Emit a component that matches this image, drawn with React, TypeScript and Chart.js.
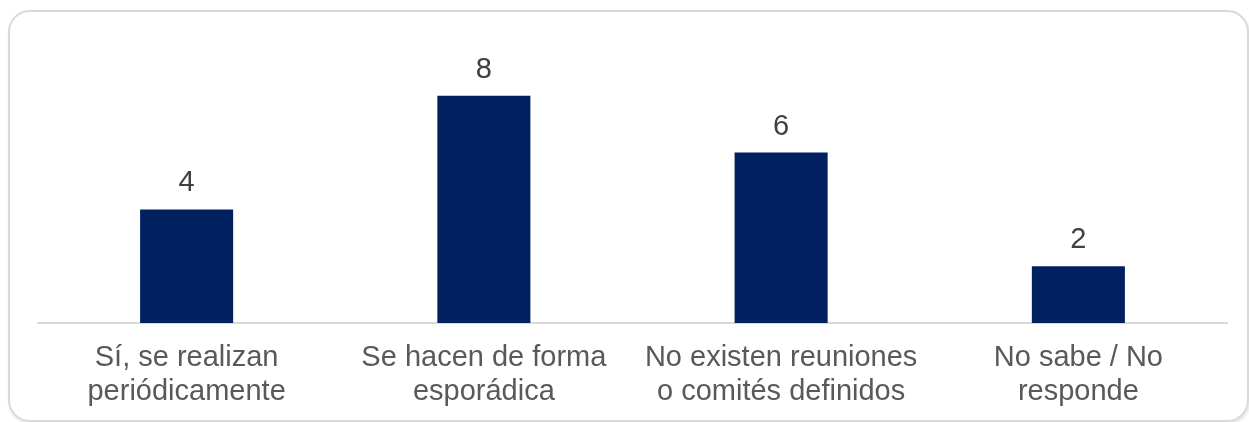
import React, { useEffect, useRef } from "react";
import { Chart, registerables } from "chart.js";

Chart.register(...registerables);

const categories: string[][] = [
  ["Sí, se realizan", "periódicamente"],
  ["Se hacen de forma", "esporádica"],
  ["No existen reuniones", "o comités definidos"],
  ["No sabe / No", "responde"],
];
const values: number[] = [4, 8, 6, 2];

const FONT = "'Liberation Sans', Arial, sans-serif";

const valueLabels = {
  id: "valueLabels",
  afterDatasetsDraw(chart: any) {
    const ctx = chart.ctx;
    const meta = chart.getDatasetMeta(0);
    ctx.save();
    ctx.fillStyle = "#404040";
    ctx.font = `29px ${FONT}`;
    ctx.textAlign = "center";
    ctx.textBaseline = "alphabetic";
    meta.data.forEach((bar: any, i: number) => {
      ctx.fillText(String(values[i]), bar.x, bar.y - 18);
    });
    ctx.restore();
  },
};

export default function App() {
  const ref = useRef<HTMLCanvasElement>(null);
  useEffect(() => {
    document.body.style.margin = "0";
    const chart = new Chart(ref.current!, {
      type: "bar",
      data: {
        labels: categories,
        datasets: [
          {
            data: values,
            backgroundColor: "#002060",
            barPercentage: 0.313,
            categoryPercentage: 1,
          },
        ],
      },
      options: {
        animation: false,
        responsive: false,
        maintainAspectRatio: false,
        layout: { padding: { left: 38, right: 22, top: 39, bottom: 0 } },
        plugins: { legend: { display: false }, tooltip: { enabled: false }, title: { display: false } },
        scales: {
          x: {
            grid: { display: false, drawTicks: false },
            border: { display: true, color: "#d9d9d9", width: 2 },
            ticks: {
              color: "#595959",
              font: { size: 29, family: FONT, lineHeight: 1.17 },
              padding: 18,
              maxRotation: 0,
              autoSkip: false,
            },
            afterFit(scale: any) {
              scale.height = 99;
            },
          },
          y: { display: false, min: 0, max: 10 },
        },
      },
      plugins: [valueLabels],
    });
    return () => chart.destroy();
  }, []);
  return (
    <div style={{ position: "absolute", left: 0, top: 0, width: 1249, height: 422, overflow: "hidden", background: "#fff" }}>
      <div
        style={{
          position: "absolute",
          left: 8,
          top: 10,
          width: 1237,
          height: 408,
          border: "2px solid #d9d9d9",
          borderRadius: 22,
          boxShadow: "1px 2px 3px rgba(0,0,0,0.12)",
        }}
      />
      <canvas ref={ref} width={1249} height={422} style={{ position: "absolute", left: 0, top: 0 }} />
    </div>
  );
}
